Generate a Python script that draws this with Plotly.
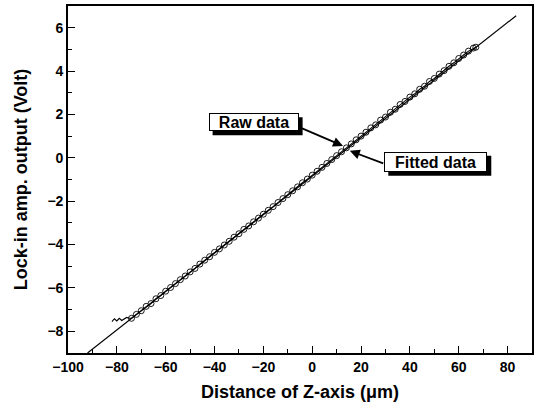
import plotly.graph_objects as go

# Measured lock-in output along the Z axis (um, V)
raw_x = [-82, -81, -80, -79, -78, -77, -76, -75,
         -74, -72, -70, -68, -66, -64, -62, -60, -58, -56, -54, -52, -50,
         -48, -46, -44, -42, -40, -38, -36, -34, -32, -30, -28, -26, -24,
         -22, -20, -18, -16, -14, -12, -10, -8, -6, -4, -2, 0, 2, 4, 6, 8,
         10, 12, 14, 16, 18, 20, 22, 24, 26, 28, 30, 32, 34, 36, 38, 40, 42,
         44, 46, 48, 50, 52, 54, 56, 58, 60, 62, 64, 66, 67]
raw_y = [-7.55, -7.42, -7.52, -7.40, -7.50, -7.42, -7.36, -7.40,
         -7.40, -7.22, -7.05, -6.85, -6.72, -6.50, -6.35, -6.15, -5.98, -5.80, -5.62, -5.45, -5.26,
         -5.10, -4.90, -4.72, -4.56, -4.36, -4.20, -4.02, -3.85, -3.66, -3.50, -3.30, -3.14, -2.95,
         -2.78, -2.60, -2.42, -2.25, -2.06, -1.88, -1.70, -1.52, -1.34, -1.15, -0.98, -0.80, -0.62, -0.44, -0.26, -0.08,
         0.10, 0.28, 0.46, 0.64, 0.83, 1.00, 1.18, 1.38, 1.52, 1.74, 1.88, 2.10, 2.24, 2.46, 2.60, 2.80, 2.95,
         3.16, 3.30, 3.52, 3.66, 3.86, 4.02, 4.22, 4.38, 4.58, 4.74, 4.92, 5.06, 5.10]

# Linear fit of the measurement (end points)
fit_x = [-92.0, 83.5]
fit_y = [-9.0, 6.55]

x_ticks = [-100, -80, -60, -40, -20, 0, 20, 40, 60, 80]
y_ticks = [-8, -6, -4, -2, 0, 2, 4, 6]

# first sample drawn with an open circle
circle_start = 8

FONT = "Liberation Sans, Arial, sans-serif"

fig = go.Figure()
fig.add_trace(go.Scatter(
    x=fit_x, y=fit_y, mode="lines",
    line=dict(color="black", width=1.2), showlegend=False))
fig.add_trace(go.Scatter(
    x=raw_x, y=raw_y, mode="lines",
    line=dict(color="black", width=1.1), showlegend=False))
fig.add_trace(go.Scatter(
    x=raw_x[circle_start:], y=raw_y[circle_start:], mode="markers",
    marker=dict(symbol="circle-open", size=6, color="black",
                line=dict(width=0.9)),
    showlegend=False))

axis_common = dict(
    showgrid=False, zeroline=False, showline=True, linecolor="black",
    linewidth=1.6, mirror=True, ticks="inside", tickwidth=1.4,
    ticklen=7, tickcolor="black",
    tickfont=dict(family=FONT, size=14, color="black", weight="bold"),
)

fig.update_xaxes(
    range=[-100, 90], tickvals=x_ticks,
    minor=dict(dtick=10, ticks="inside", ticklen=4, tickwidth=1.2,
               tickcolor="black"),
    title=dict(text="Distance of Z-axis (μm)", standoff=12,
               font=dict(family=FONT, size=18, color="black", weight="bold")),
    **axis_common)
fig.update_yaxes(
    range=[-9, 7], tickvals=y_ticks,
    minor=dict(dtick=1, ticks="inside", ticklen=4, tickwidth=1.2,
               tickcolor="black"),
    title=dict(text="Lock-in amp. output (Volt)", standoff=15,
               font=dict(family=FONT, size=18, color="black", weight="bold")),
    **axis_common)


def callout(text, tip, tail, center, w, h):
    """Boxed label with a drop shadow and an arrow pointing at the curve."""
    fig.add_annotation(x=tip[0], y=tip[1], ax=tail[0], ay=tail[1],
                       axref="x", ayref="y", text="", showarrow=True,
                       arrowhead=2, arrowsize=1.1, arrowwidth=1.8,
                       arrowcolor="black")
    # shadow, offset down-right
    fig.add_shape(type="rect", xref="x", yref="y",
                  xsizemode="pixel", ysizemode="pixel",
                  xanchor=center[0], yanchor=center[1],
                  x0=-w / 2 + 4, x1=w / 2 + 4, y0=-h / 2 - 4, y1=h / 2 - 4,
                  fillcolor="black", line=dict(width=0), layer="above")
    fig.add_annotation(x=center[0], y=center[1], xref="x", yref="y",
                       showarrow=False, text=text,
                       font=dict(family=FONT, size=16, weight="bold",
                                 color="black"),
                       width=w - 2, height=h - 2, borderpad=0, borderwidth=1,
                       bgcolor="white", bordercolor="black")


callout("Raw data", tip=(12.6, 0.55), tail=(-5.7, 1.43),
        center=(-24.0, 1.64), w=90, h=18)
callout("Fitted data", tip=(15.4, 0.32), tail=(29.7, -0.28),
        center=(50.6, -0.18), w=103, h=20)

fig.update_layout(
    width=537, height=412,
    margin=dict(l=68, r=3, t=6, b=59),
    paper_bgcolor="white", plot_bgcolor="white",
)

fig.write_html("out.html")
